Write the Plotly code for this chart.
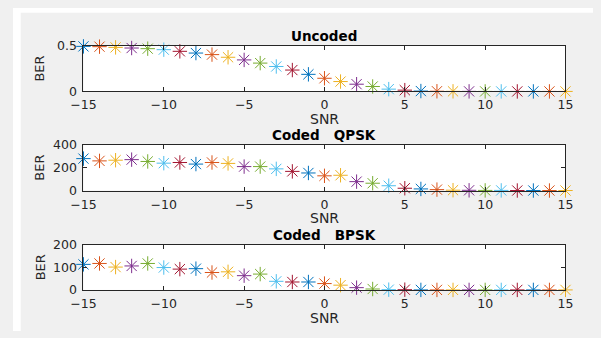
import plotly.graph_objects as go

snr = list(range(-15, 16))

ber_uncoded = [0.493, 0.490, 0.482, 0.475, 0.468, 0.457, 0.439, 0.420, 0.403, 0.374,
               0.345, 0.310, 0.273, 0.234, 0.187, 0.144, 0.108, 0.079, 0.054, 0.025,
               0.014, 0.004, 0.002, 0.001, 0.0005, 0.0002, 0.0001, 0.0, 0.0, 0.0, 0.0]
ber_qpsk = [280, 260, 266, 271, 255, 240, 246, 232, 246, 238,
            210, 210, 190, 168, 154, 129, 134, 78, 64, 42,
            20, 14, 8, 3, 2, 1, 1, 0, 0, 0, 0]
ber_bpsk = [113, 117, 101, 106, 117, 99, 92, 94, 77, 80,
            63, 70, 38, 35, 35, 28, 21, 10, 4, 1,
            1, 0, 0, 0, 0, 0, 0, 0, 0, 0, 0]

titles = ["Uncoded", "Coded\u00a0\u00a0\u00a0QPSK", "Coded\u00a0\u00a0\u00a0BPSK"]
y_ranges = [[0, 0.5], [0, 400], [0, 200]]
y_ticks = [[0, 0.5], [0, 200, 400], [0, 100, 200]]
x_ticks = [-15, -10, -5, 0, 5, 10, 15]

palette = ['#0072BD', '#D95319', '#EDB120', '#7E2F8E', '#77AC30', '#4DBEEE', '#A2142F']
colors = [palette[i % 7] for i in range(len(snr))]

W, H = 601, 338
boxes = [(39.5, 87.3), (143.3, 191.0), (247.7, 295.0)]
x_left, x_right = 73, 572.5

fig = go.Figure()
font = "DejaVu Sans, Liberation Sans, Arial, sans-serif"
txt = '#262626'
annotations = []
for i, (ys, box) in enumerate(zip([ber_uncoded, ber_qpsk, ber_bpsk], boxes)):
    n = i + 1
    xa = 'x' if n == 1 else f'x{n}'
    ya = 'y' if n == 1 else f'y{n}'
    fig.add_trace(go.Scatter(
        x=snr, y=ys, mode='markers', xaxis=xa, yaxis=ya, cliponaxis=False,
        marker=dict(symbol='asterisk-open', size=12, color=colors,
                    line=dict(width=1, color=colors)),
        showlegend=False, hoverinfo='x+y'))
    top, bot = box
    dom_y = [1 - bot / H, 1 - top / H]
    axcommon = dict(showline=True, linecolor='#262626', linewidth=1, mirror='ticks',
                    ticks='inside', ticklen=4, tickcolor='#262626', showgrid=False,
                    zeroline=False, tickfont=dict(family=font, size=12.5, color=txt))
    fig.layout[f'xaxis{"" if n == 1 else n}'] = dict(
        domain=[x_left / W, x_right / W], range=[-15, 15], tickvals=x_ticks,
        anchor=ya, ticklabelstandoff=2, **axcommon)
    fig.layout[f'yaxis{"" if n == 1 else n}'] = dict(
        domain=dom_y, range=y_ranges[i], tickvals=y_ticks[i],
        anchor=xa, ticklabelstandoff=3, **axcommon)
    annotations.append(dict(text=f"<b>{titles[i]}</b>", x=(x_left + x_right) / 2 / W,
                            y=1 - (top - 10.5) / H, xref='paper', yref='paper',
                            xanchor='center', yanchor='middle', showarrow=False,
                            font=dict(family=font, size=13.5, color='#000000')))
    annotations.append(dict(text="SNR", x=(x_left + x_right) / 2 / W,
                            y=1 - (bot + 29) / H, xref='paper', yref='paper',
                            xanchor='center', yanchor='middle', showarrow=False,
                            font=dict(family=font, size=14, color=txt)))
    annotations.append(dict(text="BER", x=28 / W, y=1 - (top + bot) / 2 / H,
                            xref='paper', yref='paper', textangle=-90,
                            xanchor='center', yanchor='middle', showarrow=False,
                            font=dict(family=font, size=13, color=txt)))

fig.update_layout(
    width=W, height=H, margin=dict(l=0, r=0, t=0, b=0),
    paper_bgcolor='#F0F0F0', plot_bgcolor='#FFFFFF',
    annotations=annotations,
    shapes=[
        dict(type='rect', xref='paper', yref='paper', x0=0, x1=8 / W, y0=0, y1=1,
             fillcolor='#FFFFFF', line=dict(width=0), layer='below'),
        dict(type='rect', xref='paper', yref='paper', x0=0, x1=1, y0=1 - 5 / H, y1=1,
             fillcolor='#FFFFFF', line=dict(width=0), layer='below'),
    ],
)

fig.write_html(
    "out.html",
    config={'displayModeBar': False},
    post_script="document.body.style.margin='0';document.body.style.overflow='hidden';"
                "document.documentElement.style.overflow='hidden';",
)
